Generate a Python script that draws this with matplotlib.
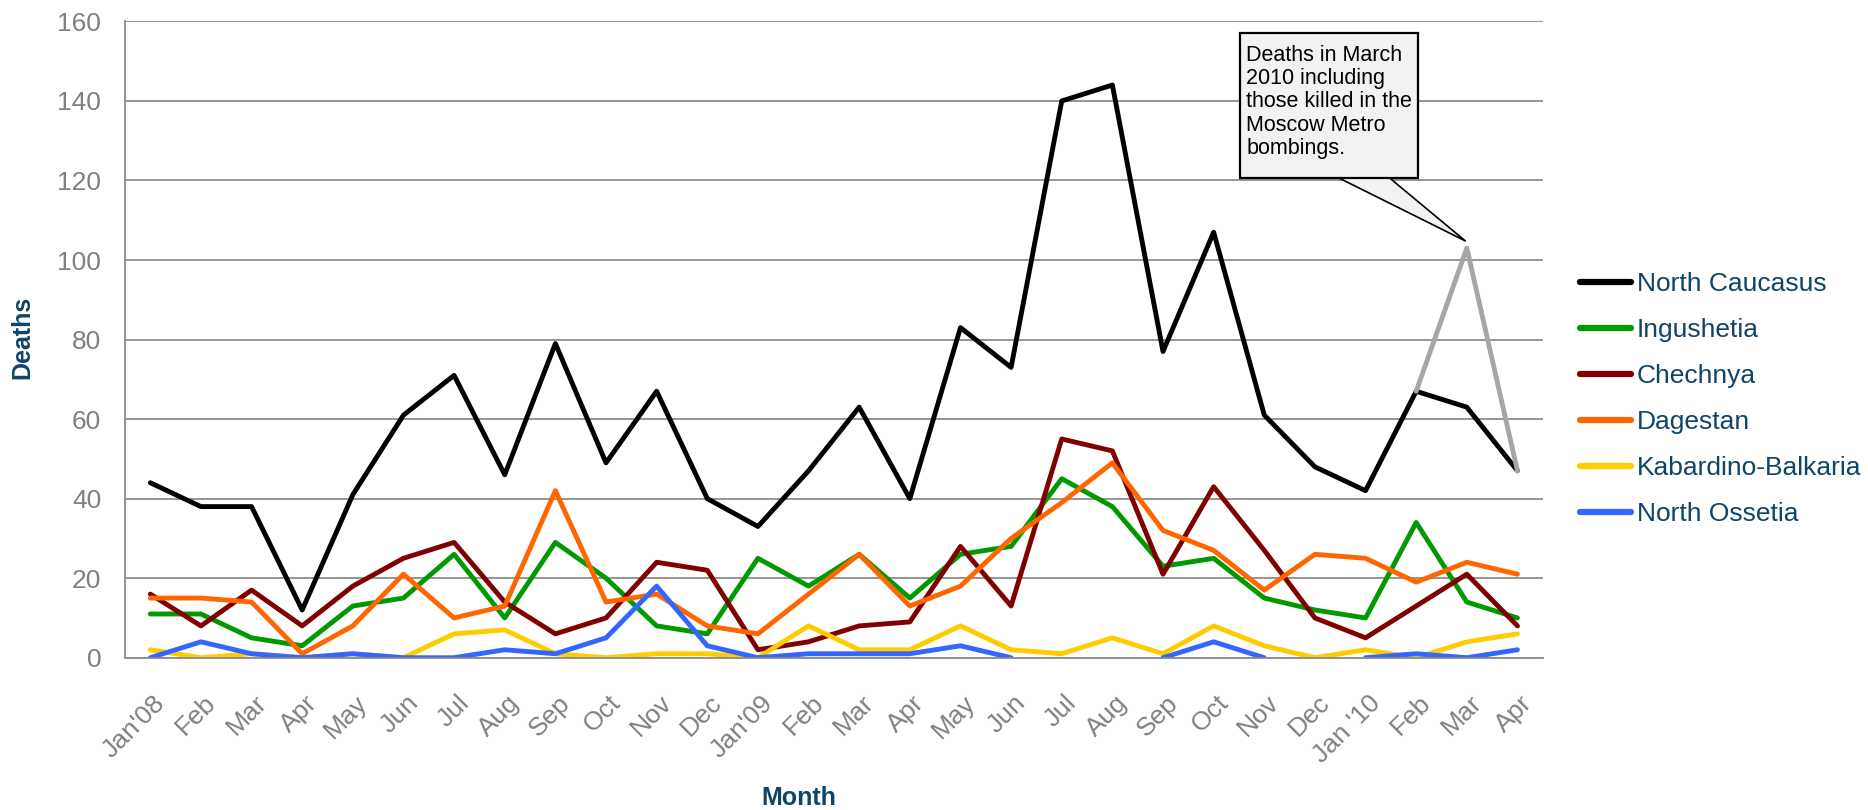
import numpy as np
import matplotlib
matplotlib.use("Agg")
import matplotlib.pyplot as plt
import matplotlib.transforms as mtrans
from matplotlib.path import Path

plt.rcParams["font.family"] = ["Liberation Sans", "DejaVu Sans"]

months = ["Jan'08", "Feb", "Mar", "Apr", "May", "Jun", "Jul", "Aug", "Sep", "Oct", "Nov", "Dec",
          "Jan'09", "Feb", "Mar", "Apr", "May", "Jun", "Jul", "Aug", "Sep", "Oct", "Nov", "Dec",
          "Jan '10", "Feb", "Mar", "Apr"]

north_caucasus = [44, 38, 38, 12, 41, 61, 71, 46, 79, 49, 67, 40,
                  33, 47, 63, 40, 83, 73, 140, 144, 77, 107, 61, 48,
                  42, 67, 63, 47]
ingushetia = [11, 11, 5, 3, 13, 15, 26, 10, 29, 20, 8, 6,
              25, 18, 26, 15, 26, 28, 45, 38, 23, 25, 15, 12,
              10, 34, 14, 10]
chechnya = [16, 8, 17, 8, 18, 25, 29, 14, 6, 10, 24, 22,
            2, 4, 8, 9, 28, 13, 55, 52, 21, 43, 27, 10,
            5, 13, 21, 8]
dagestan = [15, 15, 14, 1, 8, 21, 10, 13, 42, 14, 16, 8,
            6, 16, 26, 13, 18, 30, 39, 49, 32, 27, 17, 26,
            25, 19, 24, 21]
kabardino = [2, 0, 1, 0, 1, 0, 6, 7, 1, 0, 1, 1,
             0, 8, 2, 2, 8, 2, 1, 5, 1, 8, 3, 0,
             2, 0, 4, 6]
north_ossetia = [0, 4, 1, 0, 1, 0, 0, 2, 1, 5, 18, 3,
                 0, 1, 1, 1, 3, 0, None, None, 0, 4, 0, None,
                 0, 1, 0, 2]
# North Caucasus incl. Moscow Metro bombings (Feb-Apr 2010)
with_metro = [None] * 25 + [67, 103, 47]

series = [
    ("North Caucasus", north_caucasus, "#000000"),
    ("Ingushetia", ingushetia, "#009900"),
    ("Chechnya", chechnya, "#800000"),
    ("Dagestan", dagestan, "#FF6600"),
    ("Kabardino-Balkaria", kabardino, "#FFCC00"),
    ("North Ossetia", north_ossetia, "#3366FF"),
]

navy = "#0F4469"
grey = "#8C8C8C"


def callout_box(x0, y0, width, height, mutation_size):
    # Excel-like text box: small side padding, more room above / below
    px, ptop, pbot = 0.27 * mutation_size, 0.56 * mutation_size, 0.88 * mutation_size
    l, r, b, t = x0 - px, x0 + width + px, y0 - pbot, y0 + height + ptop
    return Path([(l, b), (r, b), (r, t), (l, t), (l, b)], closed=True)


fig = plt.figure(figsize=(18.68, 8.10), dpi=100)
ax = fig.add_axes([0.0669, 0.188, 0.759, 0.7856])

x = np.arange(len(months))
for name, vals, col in series:
    y = np.array([np.nan if v is None else v for v in vals], dtype=float)
    ax.plot(x, y, color=col, lw=3.5, label=name,
            solid_joinstyle="round", solid_capstyle="round")

ym = np.array([np.nan if v is None else v for v in with_metro], dtype=float)
ax.plot(x, ym, color="#A6A6A6", lw=3.5, solid_joinstyle="round", solid_capstyle="round")

ax.set_xlim(-0.5, len(months) - 0.5)
ax.set_ylim(0, 160)
ax.set_yticks(range(0, 161, 20))
ax.set_xticks(x)
ax.set_xticklabels(months, rotation=45, ha="right", va="center", rotation_mode="anchor")
ax.tick_params(axis="both", length=0, labelsize=19, labelcolor="#808080")
ax.tick_params(axis="y", pad=17)
ax.tick_params(axis="x", pad=30)
shift = mtrans.ScaledTranslation(8 / 72, 0, fig.dpi_scale_trans)
for lab in ax.get_xticklabels():
    lab.set_transform(lab.get_transform() + shift)
ax.grid(axis="y", color=grey, lw=1.3)
ax.set_axisbelow(True)
for s in ["top", "right"]:
    ax.spines[s].set_visible(False)
for s in ["left", "bottom"]:
    ax.spines[s].set_color(grey)
    ax.spines[s].set_linewidth(1.3)

fig.text(22 / 1868, 1 - 337 / 810, "Deaths", rotation=90, ha="center", va="center",
         fontsize=18, fontweight="bold", color=navy)
fig.text(799 / 1868, 1 - 798 / 810, "Month", ha="center", va="center",
         fontsize=18, fontweight="bold", color=navy)

mar10 = len(months) - 2
ax.annotate("Deaths in March\n2010 including\nthose killed in the\nMoscow Metro\nbombings.",
            xy=(mar10 - 0.03, with_metro[mar10] + 1.8), xytext=(21.645, 154.1),
            ha="left", va="top", fontsize=15.5, linespacing=1.14, color="black",
            bbox=dict(boxstyle=callout_box, fc="#F2F2F2", ec="black", lw=1.6),
            arrowprops=dict(arrowstyle="wedge,tail_width=2.1,shrink_factor=0.5",
                            fc="#F2F2F2", ec="black", lw=1.2, patchA=None,
                            relpos=(0.34, 0.21), shrinkA=0, shrinkB=0))

leg = ax.legend(loc="center left", bbox_to_anchor=(1580 / 1868, 1 - 399 / 810),
                bbox_transform=fig.transFigure, frameon=False, fontsize=19,
                labelcolor=navy, handlelength=1.95, handletextpad=0.2,
                labelspacing=0.83, borderpad=0, borderaxespad=0)
for h in leg.get_lines():
    h.set_linewidth(4.5)

fig.savefig("out.png", dpi=100)
